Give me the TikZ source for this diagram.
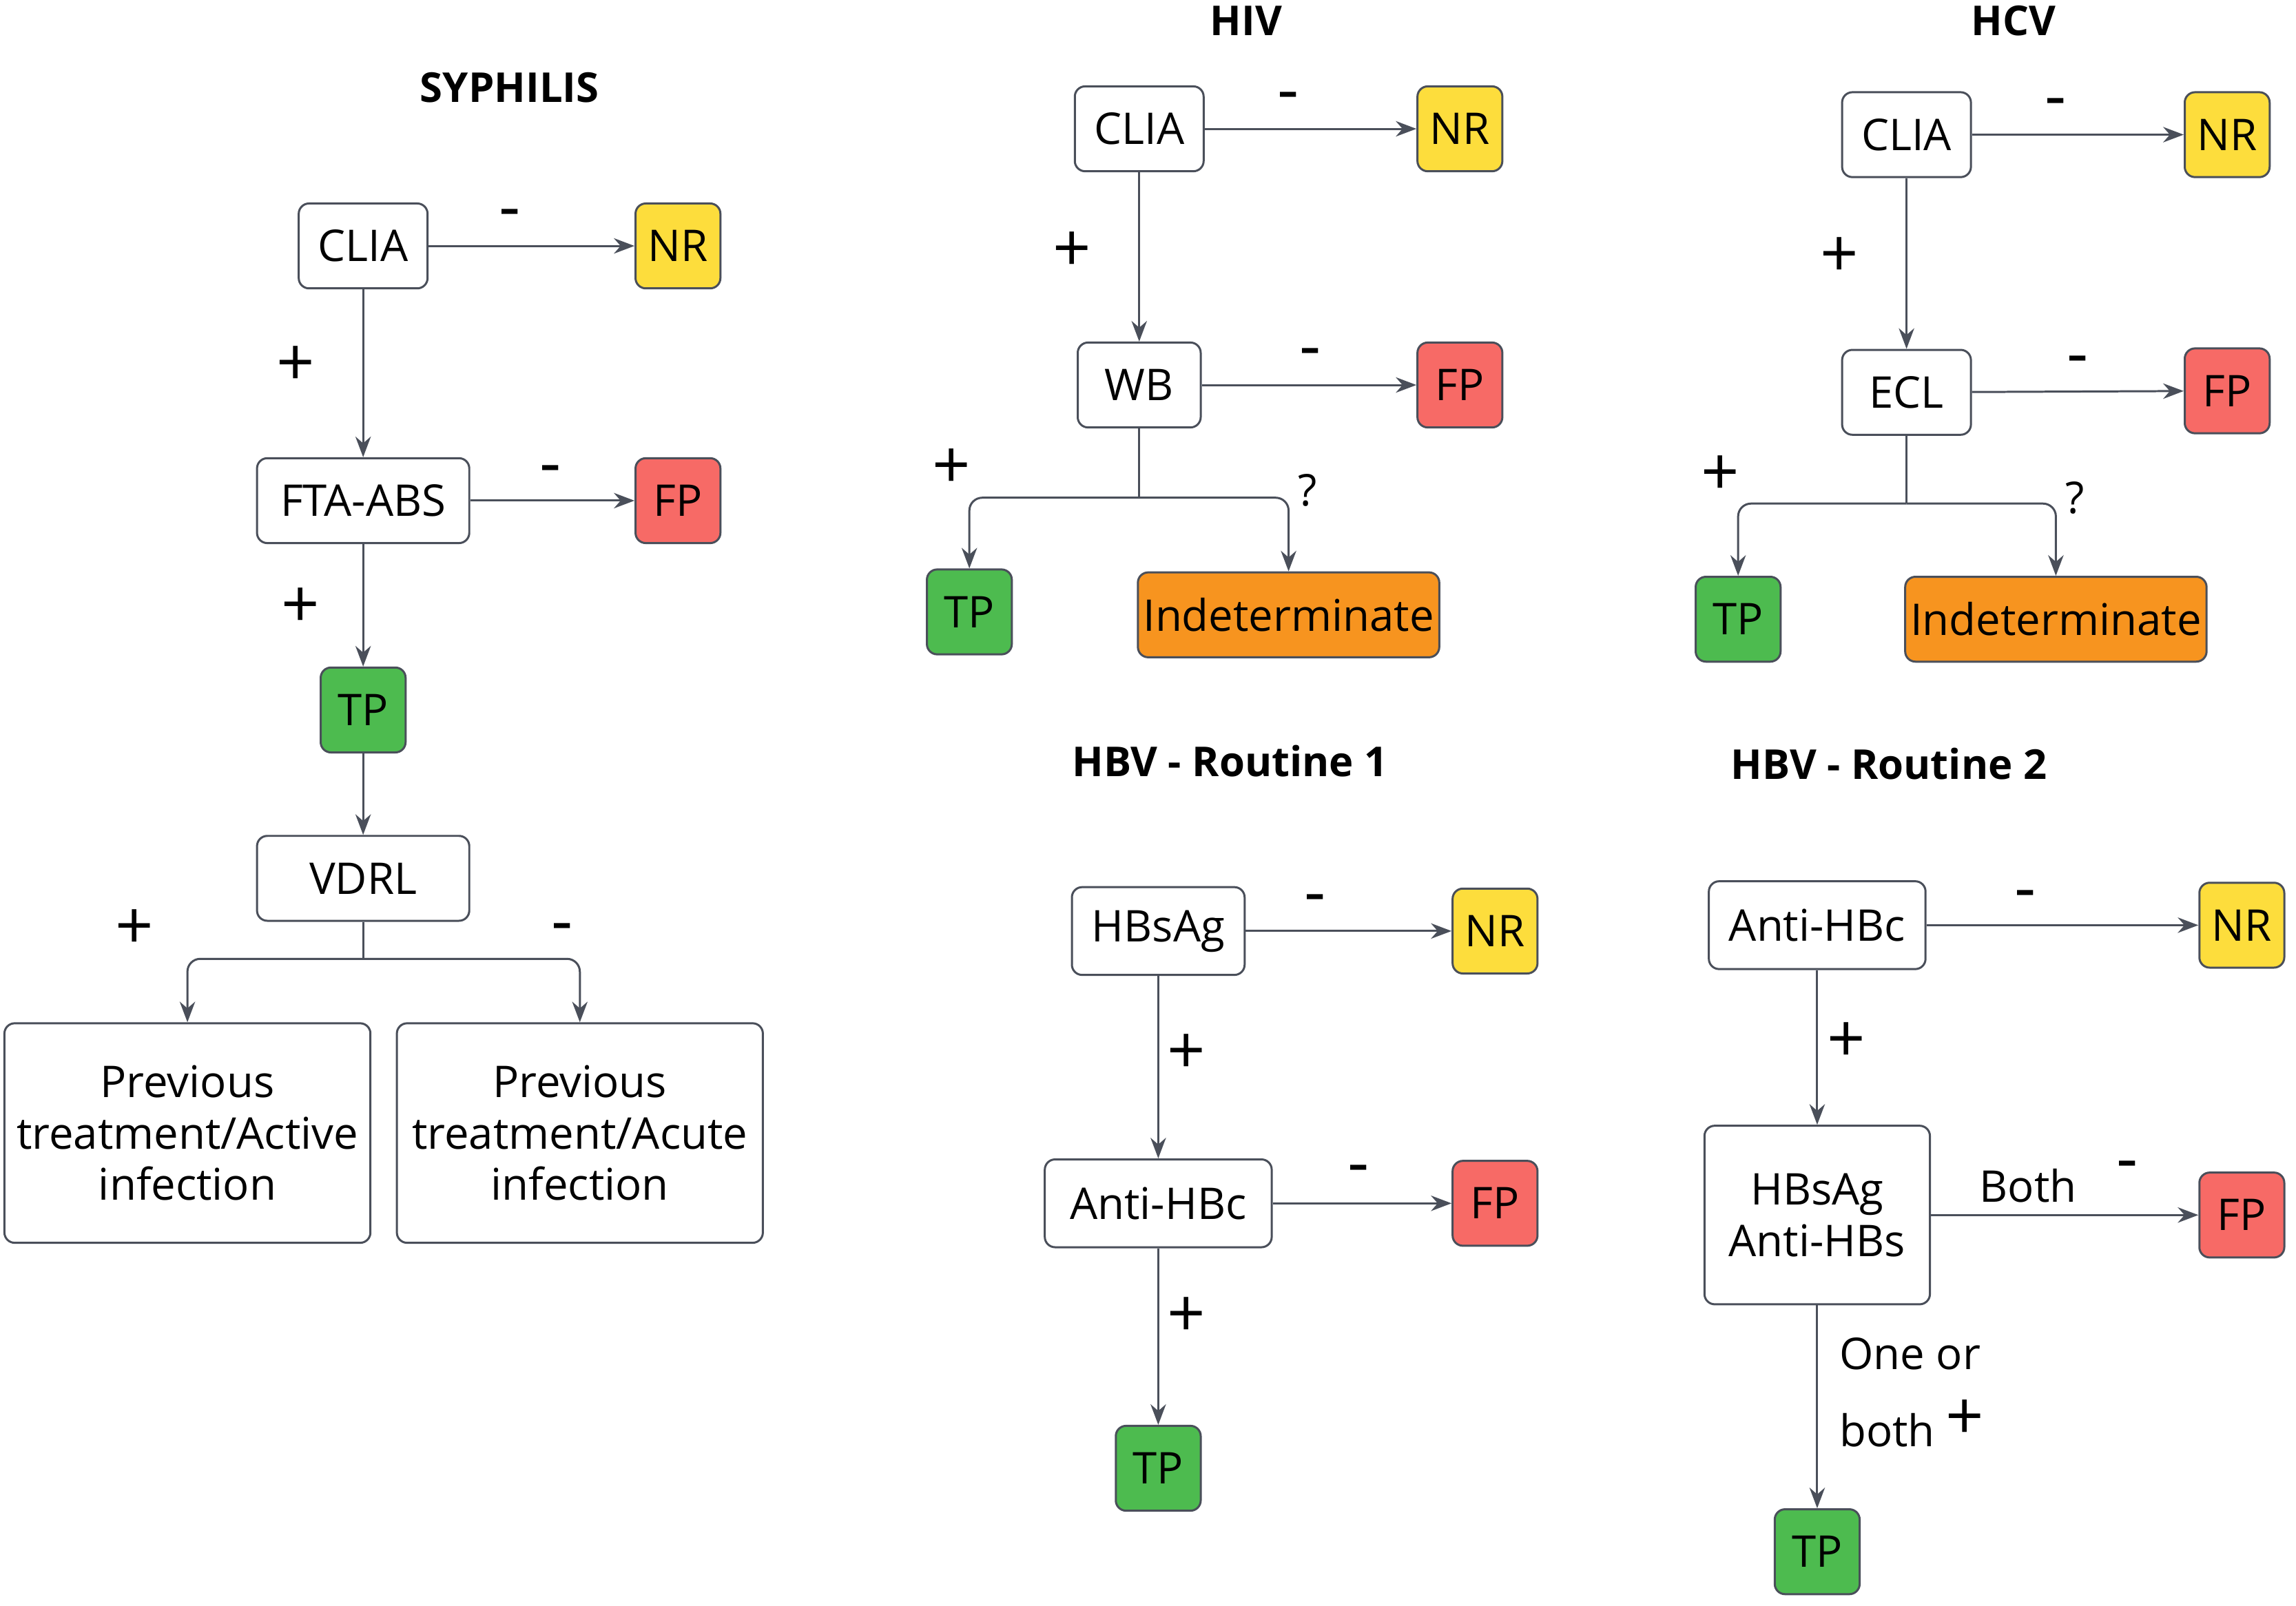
\documentclass[tikz,border=0pt]{standalone}
\usepackage{fontspec}
\setmainfont{Open Sans}
\usetikzlibrary{arrows.meta}
\definecolor{nrc}{HTML}{FDDD3C}
\definecolor{fpc}{HTML}{F76A66}
\definecolor{tpc}{HTML}{4DBB4F}
\definecolor{inc}{HTML}{F7941F}
\definecolor{linec}{HTML}{4A4F5A}
\begin{document}
\begin{tikzpicture}[x=0.02cm, y=-0.02cm,
    box/.style={draw=linec, thick, rounded corners=4pt, fill=white, inner sep=2pt,
      font=\fontsize{17}{20}\selectfont, minimum height=1.16cm, align=center},
    res/.style={box, minimum width=1.16cm},
    arr/.style={-{Stealth[length=8pt,width=6pt]}, linec, thick},
    sgn/.style={font=\fontsize{26}{26}\selectfont},
    ttl/.style={font=\fontsize{16}{18}\selectfont\bfseries}]
  \useasboundingbox (0,0) rectangle (1568,1097);
  % syphilis
  \node[ttl] at (348,60) {SYPHILIS};
  \node[box, minimum width=1.76cm] (sclia) at (248,168) {CLIA};
  \node[res, fill=nrc] (snr) at (463,168) {NR};
  \node[box, minimum width=2.9cm] (sfta) at (248,342) {FTA-ABS};
  \node[res, fill=fpc] (sfp) at (463,342) {FP};
  \node[res, fill=tpc] (stp) at (248,485) {TP};
  \node[box, minimum width=2.9cm] (svdrl) at (248,600) {VDRL};
  \node[box, minimum width=5cm, minimum height=3cm] (sact) at (128,774) {Previous\\treatment/Active\\infection};
  \node[box, minimum width=5cm, minimum height=3cm] (sacu) at (396,774) {Previous\\treatment/Acute\\infection};
  \coordinate (sj) at (248,655);
  \draw[arr] (sclia) -- (snr);
  \draw[arr] (sclia) -- (sfta);
  \draw[arr] (sfta) -- (sfp);
  \draw[arr] (sfta) -- (stp);
  \draw[arr] (stp) -- (svdrl);
  \draw[linec, thick] (svdrl) -- (sj);
  \draw[arr, rounded corners=5pt] (sj) -| (sact.north);
  \draw[arr, rounded corners=5pt] (sj) -| (sacu.north);
  \node[sgn] at (348,150) {-};
  \node[sgn] at (202,250) {+};
  \node[sgn] at (376,325) {-};
  \node[sgn] at (205,415) {+};
  \node[sgn] at (92,635) {+};
  \node[sgn] at (384,638) {-};
  % hiv
  \node[ttl] at (851,14) {HIV};
  \node[box, minimum width=1.76cm] (hclia) at (778,88) {CLIA};
  \node[res, fill=nrc] (hnr) at (997,88) {NR};
  \node[box, minimum width=1.68cm] (hwb) at (778,263) {WB};
  \node[res, fill=fpc] (hfp) at (997,263) {FP};
  \node[res, fill=tpc] (htp) at (662,418) {TP};
  \node[box, fill=inc, minimum width=4.08cm] (hind) at (880,420) {Indeterminate};
  \coordinate (hj) at (778,340);
  \draw[arr] (hclia) -- (hnr);
  \draw[arr] (hclia) -- (hwb);
  \draw[arr] (hwb) -- (hfp);
  \draw[linec, thick] (hwb) -- (hj);
  \draw[arr, rounded corners=5pt] (hj) -| (htp.north);
  \draw[arr, rounded corners=5pt] (hj) -| (hind.north);
  \node[sgn] at (880,70) {-};
  \node[sgn] at (732,172) {+};
  \node[sgn] at (895,245) {-};
  \node[sgn] at (650,320) {+};
  \node[font=\fontsize{17}{20}\selectfont] at (893,335) {?};
  % hcv
  \node[ttl] at (1375,14) {HCV};
  \node[box, minimum width=1.76cm] (cclia) at (1302,92) {CLIA};
  \node[res, fill=nrc] (cnr) at (1521,92) {NR};
  \node[box, minimum width=1.76cm] (cecl) at (1302,268) {ECL};
  \node[res, fill=fpc] (cfp) at (1521,267) {FP};
  \node[res, fill=tpc] (ctp) at (1187,423) {TP};
  \node[box, fill=inc, minimum width=4.08cm] (cind) at (1404,423) {Indeterminate};
  \coordinate (cj) at (1302,344);
  \draw[arr] (cclia) -- (cnr);
  \draw[arr] (cclia) -- (cecl);
  \draw[arr] (cecl) -- (cfp);
  \draw[linec, thick] (cecl) -- (cj);
  \draw[arr, rounded corners=5pt] (cj) -| (ctp.north);
  \draw[arr, rounded corners=5pt] (cj) -| (cind.north);
  \node[sgn] at (1404,74) {-};
  \node[sgn] at (1256,176) {+};
  \node[sgn] at (1419,250) {-};
  \node[sgn] at (1175,325) {+};
  \node[font=\fontsize{17}{20}\selectfont] at (1417,340) {?};
  % hbv routine 1
  \node[ttl] at (840,520) {HBV - Routine 1};
  \node[box, minimum width=2.36cm, minimum height=1.2cm] (ahbs) at (791,636) {HBsAg};
  \node[res, fill=nrc] (anr) at (1021,636) {NR};
  \node[box, minimum width=3.1cm, minimum height=1.2cm] (ahbc) at (791,822) {Anti-HBc};
  \node[res, fill=fpc] (afp) at (1021,822) {FP};
  \node[res, fill=tpc] (atp) at (791,1003) {TP};
  \draw[arr] (ahbs) -- (anr);
  \draw[arr] (ahbs) -- (ahbc);
  \draw[arr] (ahbc) -- (afp);
  \draw[arr] (ahbc) -- (atp);
  \node[sgn] at (898,618) {-};
  \node[sgn] at (810,720) {+};
  \node[sgn] at (928,803) {-};
  \node[sgn] at (810,900) {+};
  % hbv routine 2
  \node[ttl] at (1290,522) {HBV - Routine 2};
  \node[box, minimum width=2.96cm, minimum height=1.2cm] (bhbc) at (1241,632) {Anti-HBc};
  \node[res, fill=nrc] (bnr) at (1531,632) {NR};
  \node[box, minimum width=3.08cm, minimum height=2.44cm] (bhbs) at (1241,830) {HBsAg\\Anti-HBs};
  \node[res, fill=fpc] (bfp) at (1531,830) {FP};
  \node[res, fill=tpc] (btp) at (1241,1060) {TP};
  \draw[arr] (bhbc) -- (bnr);
  \draw[arr] (bhbc) -- (bhbs);
  \draw[arr] (bhbs) -- (bfp);
  \draw[arr] (bhbs) -- (btp);
  \node[sgn] at (1383,615) {-};
  \node[sgn] at (1261,712) {+};
  \node[font=\fontsize{17}{20}\selectfont] at (1385,810) {Both};
  \node[sgn] at (1453,800) {-};
  \node[font=\fontsize{17}{20}\selectfont, anchor=west] at (1250,925) {One or};
  \node[font=\fontsize{17}{20}\selectfont, anchor=west] at (1250,977) {both};
  \node[sgn] at (1342,970) {+};
\end{tikzpicture}
\end{document}
